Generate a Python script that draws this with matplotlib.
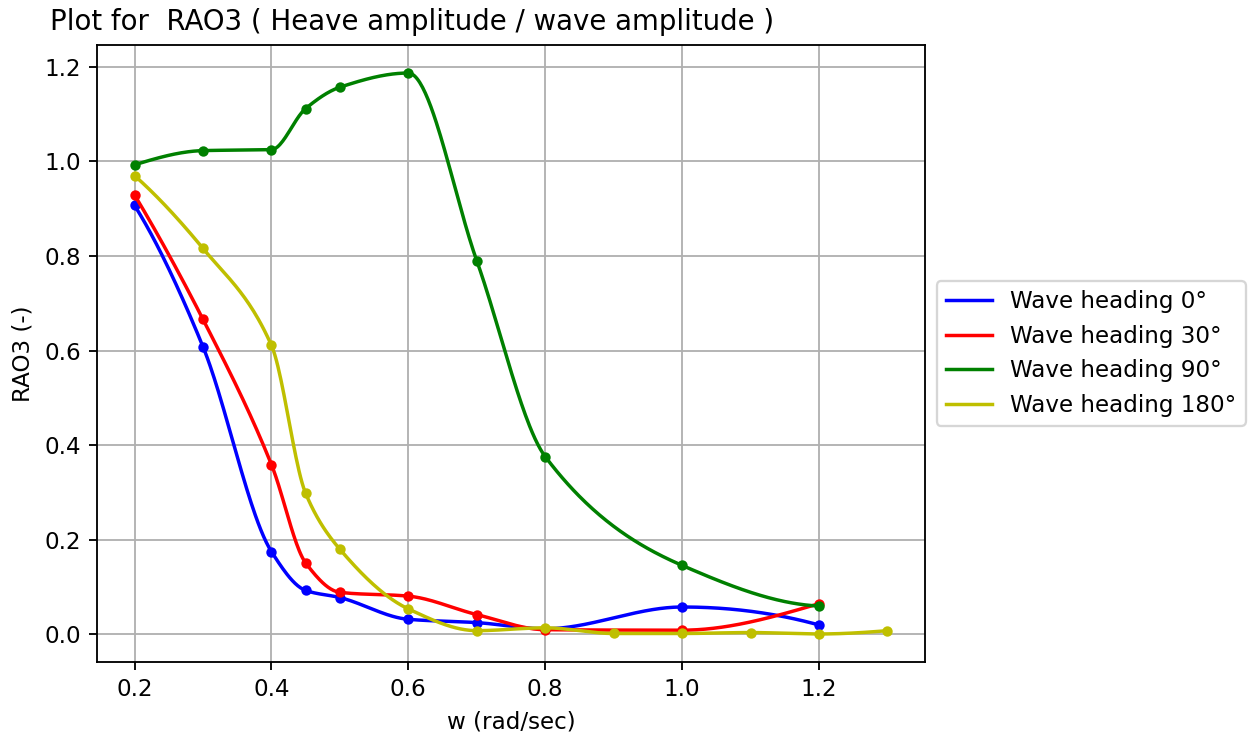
import numpy as np
import matplotlib
matplotlib.use('Agg')
from matplotlib import pyplot as plt

# wave frequencies (rad/sec) and RAO3 values
w_0 = [0.2, 0.3, 0.4, 0.45, 0.5, 0.6, 0.7, 0.8, 1.0, 1.2]
rao_0 = [0.907, 0.608, 0.175, 0.093, 0.078, 0.032, 0.025, 0.012, 0.058, 0.020]

w_30 = [0.2, 0.3, 0.4, 0.45, 0.5, 0.6, 0.7, 0.8, 1.0, 1.2]
rao_30 = [0.929, 0.666, 0.359, 0.151, 0.089, 0.081, 0.042, 0.010, 0.009, 0.065]

w_90 = [0.2, 0.3, 0.4, 0.45, 0.5, 0.6, 0.7, 0.8, 1.0, 1.2]
rao_90 = [0.993, 1.023, 1.025, 1.112, 1.157, 1.187, 0.790, 0.376, 0.146, 0.060]

w_180 = [0.2, 0.3, 0.4, 0.45, 0.5, 0.6, 0.7, 0.8, 0.9, 1.0, 1.1, 1.2, 1.3]
rao_180 = [0.970, 0.816, 0.611, 0.298, 0.180, 0.054, 0.008, 0.014, 0.002, 0.002, 0.004, 0.001, 0.008]

labels = ['Wave heading 0°', 'Wave heading 30°', 'Wave heading 90°', 'Wave heading 180°']
colors = ['b', 'r', 'g', 'y']


def pchip(x, y, xs):
    # shape preserving cubic (same idea as scipy's PchipInterpolator), only for a smooth line
    x = np.asarray(x, float)
    y = np.asarray(y, float)
    h = np.diff(x)
    m = np.diff(y) / h
    n = len(x)
    d = np.zeros(n)
    for i in range(1, n - 1):
        if m[i - 1] * m[i] > 0:
            w1 = 2 * h[i] + h[i - 1]
            w2 = h[i] + 2 * h[i - 1]
            d[i] = (w1 + w2) / (w1 / m[i - 1] + w2 / m[i])
    # end slopes
    def edge(h0, h1, m0, m1):
        dd = ((2 * h0 + h1) * m0 - h0 * m1) / (h0 + h1)
        if np.sign(dd) != np.sign(m0):
            dd = 0.0
        elif np.sign(m0) != np.sign(m1) and abs(dd) > abs(3 * m0):
            dd = 3 * m0
        return dd
    d[0] = edge(h[0], h[1], m[0], m[1])
    d[-1] = edge(h[-1], h[-2], m[-1], m[-2])
    k = np.clip(np.searchsorted(x, xs) - 1, 0, n - 2)
    t = (xs - x[k]) / h[k]
    h00 = 2 * t**3 - 3 * t**2 + 1
    h10 = t**3 - 2 * t**2 + t
    h01 = -2 * t**3 + 3 * t**2
    h11 = t**3 - t**2
    return h00 * y[k] + h10 * h[k] * d[k] + h01 * y[k + 1] + h11 * h[k] * d[k + 1]


fig = plt.figure(figsize=(1256 / 166, 735 / 166), dpi=166)
ax = fig.add_axes([0.0772, 0.0993, 0.6593, 0.8395])

for w, rao, lab, col in zip([w_0, w_30, w_90, w_180], [rao_0, rao_30, rao_90, rao_180], labels, colors):
    ws = np.linspace(w[0], w[-1], 500)
    ax.plot(ws, pchip(w, rao, ws), color=col, label=lab)
    ax.plot(w, rao, 'o', color=col, ms=3.5)

ax.grid(True)
ax.set_xlabel('w (rad/sec)')
ax.set_ylabel('RAO3 (-)')
fig.text(50 / 1256, 1 - 22 / 735, 'Plot for  RAO3 ( Heave amplitude / wave amplitude )',
         fontsize=12, ha='left', va='center')
ax.legend(loc='center left', bbox_to_anchor=(1, 0.5))

fig.savefig('out.png', dpi=166)
